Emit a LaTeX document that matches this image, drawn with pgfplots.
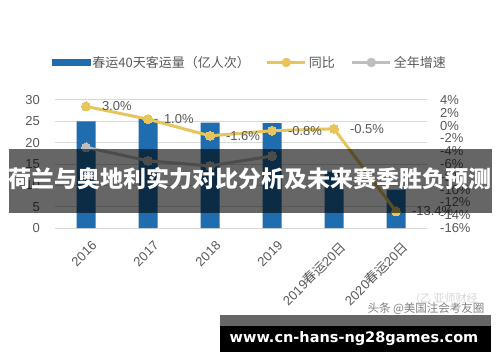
\documentclass[border=0pt]{standalone}
\usepackage{pgfplots}
\pgfplotsset{compat=1.18}
\usepackage{fontspec}
\setmainfont{Liberation Sans}
\newfontfamily\cjk{Noto Sans CJK SC}
\newfontfamily\wwwfont{DejaVu Sans}
\definecolor{barblue}{RGB}{31,108,174}
\definecolor{lineyellow}{RGB}{231,197,92}
\definecolor{linegray}{RGB}{190,190,190}
\definecolor{tickgray}{RGB}{89,89,89}
\definecolor{gridgray}{RGB}{217,217,217}
\begin{document}
\begin{tikzpicture}
\fill[white] (0,0) rectangle (500pt,362pt);
\useasboundingbox (0,0) rectangle (500pt,362pt);
\begin{axis}[
  at={(55pt,134pt)}, anchor=south west,
  scale only axis, width=372pt, height=128pt,
  xmin=-0.5, xmax=5.5, ymin=0, ymax=30,
  ytick={0,5,...,30},
  xtick={0,...,5},
  xticklabels={2016,2017,2018,2019,2019{\cjk 春运}20{\cjk 日},2020{\cjk 春运}20{\cjk 日}},
  xticklabel style={rotate=45, anchor=north east, inner sep=0pt, xshift=-5pt, yshift=-12pt, font=\fontsize{13pt}{15pt}\selectfont, text=tickgray},
  yticklabel style={anchor=east, inner sep=0pt, xshift=-15pt, font=\fontsize{13pt}{15pt}\selectfont, text=tickgray},
  /pgf/number format/assume math mode=true,
  axis line style={draw=none}, major tick length=0pt,
  ymajorgrids, grid style={gridgray, line width=1pt},
  clip=false,
]
\addplot[ybar, bar width=19pt, fill=barblue, draw=none] coordinates {(0,25.0) (1,25.6) (2,24.7) (3,24.6) (4,13.2) (5,9.0)};
\end{axis}
\begin{axis}[
  at={(55pt,134pt)}, anchor=south west,
  scale only axis, width=372pt, height=128pt,
  xmin=-0.5, xmax=5.5, ymin=-16, ymax=4,
  axis x line=none, axis y line*=right,
  ytick={-16,-14,...,4},
  yticklabel={\pgfmathprintnumber{\tick}\%},
  yticklabel style={anchor=west, inner sep=0pt, xshift=13pt, font=\fontsize{13pt}{15pt}\selectfont, text=tickgray},
  /pgf/number format/assume math mode=true,
  axis line style={draw=none}, major tick length=0pt,
  clip=false,
  legend columns=3,
  legend style={at={(0.524,1)}, anchor=south, yshift=27pt, draw=none, fill=none,
    font=\cjk\fontsize{13pt}{15pt}\selectfont, text=tickgray,
    nodes={inner sep=2pt},
    /tikz/every even column/.append style={column sep=14pt}},
]
\addlegendimage{legend image code/.code={\fill[barblue] (0pt,-3pt) rectangle (38pt,3pt);}}
\addlegendentry{春运40天客运量（亿人次）}
\addlegendimage{legend image code/.code={\draw[lineyellow, line width=3pt] (0pt,0pt) -- (38pt,0pt); \fill[lineyellow] (19pt,0pt) circle (4.5pt);}}
\addlegendentry{同比}
\addlegendimage{legend image code/.code={\draw[linegray, line width=3pt] (0pt,0pt) -- (38pt,0pt); \fill[linegray] (19pt,0pt) circle (4.5pt);}}
\addlegendentry{全年增速}
\addplot[linegray, line width=3pt, mark=*, mark size=4.5pt, mark options={fill=linegray, draw=linegray, line width=0pt}, forget plot]
  coordinates {(0,-3.4) (1,-5.5) (2,-6.3) (3,-4.75)};
\addplot[lineyellow, line width=3pt, mark=*, mark size=4.5pt, mark options={fill=lineyellow, draw=lineyellow, line width=0pt}, forget plot,
  nodes near coords, point meta=explicit symbolic,
  every node near coord/.append style={anchor=west, inner sep=0pt, xshift=16pt, font=\fontsize{13pt}{15pt}\selectfont, text=tickgray}]
  coordinates {(0,3.0) [3.0\%] (1,1.0) [1.0\%] (2,-1.6) [-1.6\%] (3,-0.8) [-0.8\%] (4,-0.5) [-0.5\%] (5,-13.4) [-13.4\%]};
\end{axis}
% watermarks
\node[text={rgb,255:red,215;green,215;blue,215}, font=\cjk\fontsize{11pt}{13pt}\selectfont] at (447pt,63pt) {(乙 亚师财经};
\node[text={rgb,255:red,130;green,130;blue,130}, font=\cjk\fontsize{11.5pt}{13pt}\selectfont] at (426pt,53pt) {头条 @美国注会考友圈};
% banner
\fill[black, opacity=0.6] (9pt,149pt) rectangle (492pt,213pt);
\node[text=white, font=\cjk\bfseries\fontsize{23pt}{25pt}\selectfont] at (250pt,183pt) {荷兰与奥地利实力对比分析及未来赛季胜负预测};
% url box
\fill[black!60] (220pt,36pt) rectangle (491pt,47pt);
\fill[black] (220pt,10pt) rectangle (491pt,36pt);
\node[text=white, font=\wwwfont\bfseries\fontsize{14.5pt}{16pt}\selectfont] at (354pt,23pt) {www.cn-hans-ng28games.com};
\end{tikzpicture}
\end{document}
